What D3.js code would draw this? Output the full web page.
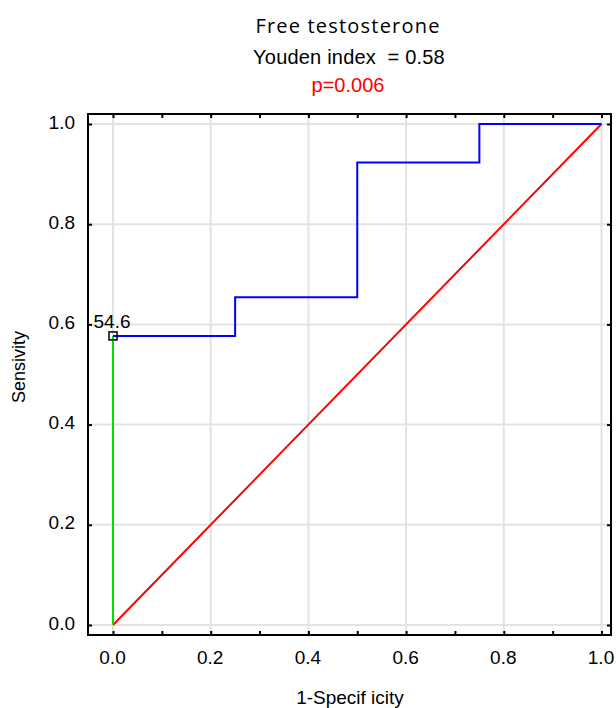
<!DOCTYPE html>
<html>
<head>
<meta charset="utf-8">
<script src="https://cdn.jsdelivr.net/npm/d3@7"></script>
<style>
  body { margin: 0; background: #fff; }
  text { font-family: "Liberation Sans", Arial, sans-serif; }
</style>
</head>
<body>
<script>
// ROC curve data (1-specificity, sensitivity)
var rocX = [0, 0.25, 0.25, 0.5, 0.5, 0.75, 0.75, 1];
var rocY = [0.577, 0.577, 0.654, 0.654, 0.923, 0.923, 1, 1];
var cutX = [0, 0];
var cutY = [0, 0.577];
var refX = [0, 1];
var refY = [0, 1];
var cutLabel = "54.6";
var majorTicks = [0, 0.2, 0.4, 0.6, 0.8, 1.0];
var minorTicks = [0.1, 0.3, 0.5, 0.7, 0.9];

var W = 616, H = 708;
// plot frame
var frame = {left: 88, right: 611, top: 114, bottom: 635};

var svg = d3.select("body").append("svg")
    .attr("width", W)
    .attr("height", H);

var x = d3.scaleLinear().domain([0, 1]).range([113, 601.5]);
var y = d3.scaleLinear().domain([0, 1]).range([625, 124]);

// grid
svg.append("g").selectAll("line.gx")
    .data(majorTicks).enter().append("line")
    .attr("x1", function(d) { return x(d); })
    .attr("x2", function(d) { return x(d); })
    .attr("y1", frame.top).attr("y2", frame.bottom)
    .attr("stroke", "#e3e3e3").attr("stroke-width", 2);
svg.append("g").selectAll("line.gy")
    .data(majorTicks).enter().append("line")
    .attr("y1", function(d) { return y(d); })
    .attr("y2", function(d) { return y(d); })
    .attr("x1", frame.left).attr("x2", frame.right)
    .attr("stroke", "#e3e3e3").attr("stroke-width", 2);

var line = d3.line()
    .x(function(d) { return x(d[0]); })
    .y(function(d) { return y(d[1]); });

// reference diagonal
svg.append("path")
    .datum(d3.zip(refX, refY))
    .attr("d", line)
    .attr("fill", "none").attr("stroke", "#ff0000").attr("stroke-width", 2);

// cut-off drop line
svg.append("path")
    .datum(d3.zip(cutX, cutY))
    .attr("d", line)
    .attr("fill", "none").attr("stroke", "#00e000").attr("stroke-width", 2);

// ROC curve
svg.append("path")
    .datum(d3.zip(rocX, rocY))
    .attr("d", line)
    .attr("fill", "none").attr("stroke", "#0000ff").attr("stroke-width", 2);

// cut-off marker
svg.append("rect")
    .attr("x", x(cutX[1]) - 4).attr("y", y(cutY[1]) - 4)
    .attr("width", 8).attr("height", 8)
    .attr("fill", "none").attr("stroke", "#000").attr("stroke-width", 1.5);
svg.append("text")
    .attr("x", x(cutX[1]) - 1).attr("y", y(cutY[1]) - 8)
    .attr("text-anchor", "middle")
    .attr("font-size", 19)
    .text(cutLabel);

// frame
svg.append("rect")
    .attr("x", frame.left).attr("y", frame.top)
    .attr("width", frame.right - frame.left)
    .attr("height", frame.bottom - frame.top)
    .attr("fill", "none").attr("stroke", "#000").attr("stroke-width", 2);

// inward ticks on all four sides
var tickLen = 4;
function addAxis(gen, tx, ty) {
  var g = svg.append("g").attr("transform", "translate(" + tx + "," + ty + ")");
  g.call(gen);
  g.select(".domain").remove();
  g.selectAll("line").attr("stroke", "#000").attr("stroke-width", 2);
  return g;
}
var fmt = d3.format(".1f");
var all = majorTicks.concat(minorTicks);

addAxis(d3.axisTop(x).tickValues(all).tickSize(tickLen).tickFormat(""), 0, frame.bottom);
addAxis(d3.axisBottom(x).tickValues(all).tickSize(tickLen).tickFormat(""), 0, frame.top);
addAxis(d3.axisRight(y).tickValues(majorTicks).tickSize(tickLen).tickFormat(""), frame.left, 0);
addAxis(d3.axisLeft(y).tickValues(majorTicks).tickSize(tickLen).tickFormat(""), frame.right, 0);

// tick labels
var xl = svg.append("g")
    .attr("transform", "translate(-1,664)")
    .call(d3.axisBottom(x).tickValues(majorTicks).tickSize(0).tickFormat(fmt));
xl.select(".domain").remove();
xl.selectAll("text").attr("font-size", 19).attr("fill", "#000")
    .attr("y", 0).attr("dy", 0)
    .attr("font-family", "Liberation Sans, Arial, sans-serif");

var yl = svg.append("g")
    .attr("transform", "translate(" + (frame.left - 13) + ",0)")
    .call(d3.axisLeft(y).tickValues(majorTicks).tickSize(0).tickFormat(fmt));
yl.select(".domain").remove();
yl.selectAll("text").attr("font-size", 19).attr("fill", "#000")
    .attr("x", 0).attr("dy", "0.22em")
    .attr("font-family", "Liberation Sans, Arial, sans-serif");

// titles
svg.append("text")
    .attr("x", 348).attr("y", 33)
    .attr("text-anchor", "middle")
    .attr("font-size", 20)
    .attr("letter-spacing", 1.2)
    .style("font-family", "'Open Sans', sans-serif")
    .text("Free testosterone");
svg.append("text")
    .attr("x", 349).attr("y", 64)
    .attr("text-anchor", "middle")
    .attr("font-size", 20)
    .attr("letter-spacing", 0.2)
    .style("white-space", "pre")
    .text("Youden index  = 0.58");
svg.append("text")
    .attr("x", 348).attr("y", 92)
    .attr("text-anchor", "middle")
    .attr("font-size", 20)
    .attr("fill", "#ff0000")
    .text("p=0.006");

// axis titles
svg.append("text")
    .attr("x", 350).attr("y", 704)
    .attr("text-anchor", "middle")
    .attr("font-size", 19)
    .text("1-Specif icity");
svg.append("text")
    .attr("transform", "translate(25,367) rotate(-90)")
    .attr("text-anchor", "middle")
    .attr("font-size", 18)
    .text("Sensivity");
</script>
</body>
</html>
